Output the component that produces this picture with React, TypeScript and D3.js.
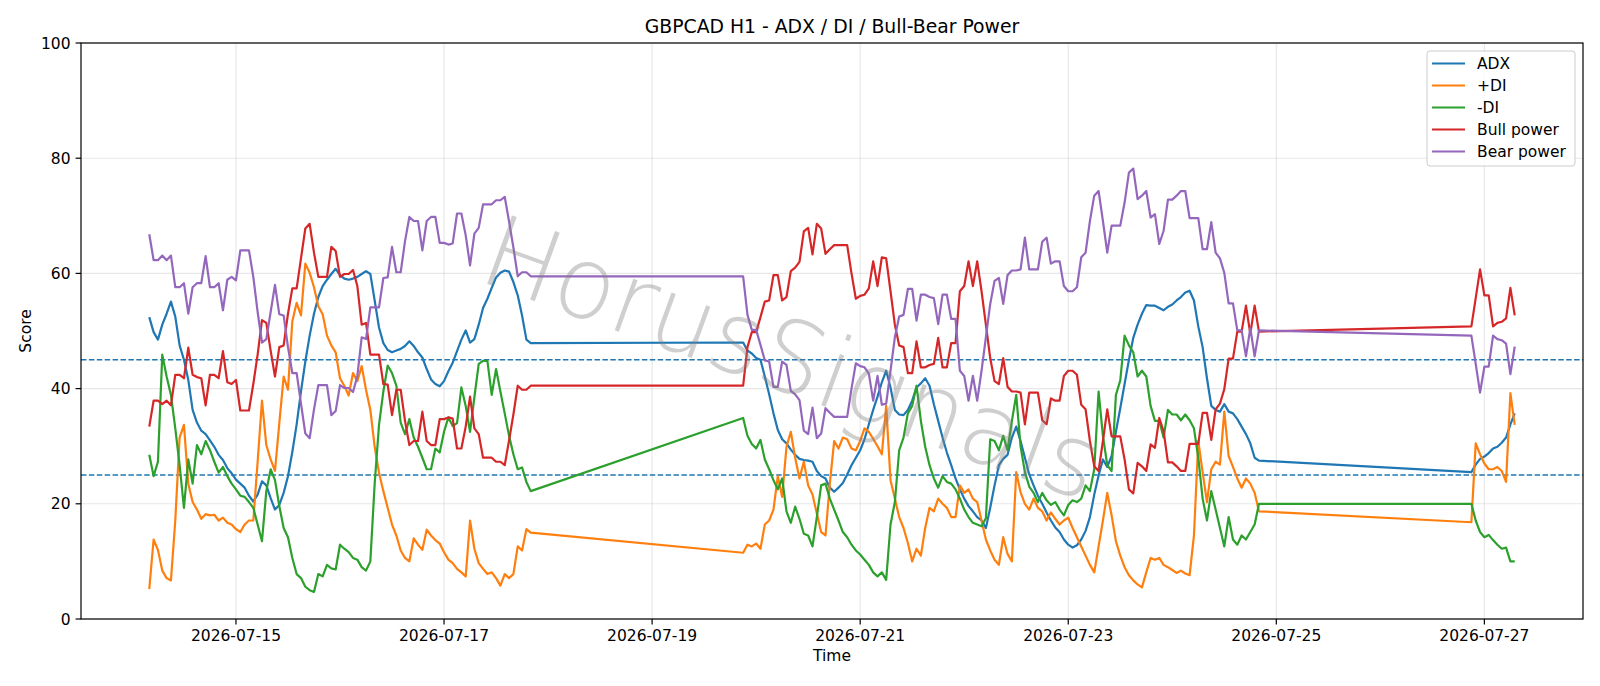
import { useMemo } from 'react'
import * as d3 from 'd3'

const WIDTH = 1600
const HEIGHT = 686
const MARGIN = { top: 43, right: 17, bottom: 67, left: 81 }

// hourly bars in three trading blocks, weekends in between
const SEGMENT_STARTS = ['2026-07-14T04:00:00Z', '2026-07-19T21:00:00Z', '2026-07-26T21:00:00Z']
const SEGMENT_HOURS = [89, 120, 11]

const ADX = [
  52.4, 49.8, 48.5, 51.1, 53, 55.1, 52.5, 47.5, 45, 41.5, 36.3, 34.1, 32.7, 32.1, 31, 29.9, 28.5, 27.6, 26.2, 25.3,
  24.2, 23.5, 22.8, 21.4, 20.4, 21.6, 23.9, 23.2, 21, 19, 19.8, 21.9, 24.8, 29, 33.8, 39.5, 44.7, 49.2, 53, 55.9,
  57.8, 58.9, 59.9, 60.8, 59.7, 59.1, 58.9, 59.1, 59.4, 59.9, 60.4, 59.9, 55.3, 50.6, 47.9, 46.7, 46.3, 46.6, 46.9, 47.4,
  48.2, 47.4, 46.3, 45.4, 43.4, 41.6, 40.8, 40.4, 41.3, 43, 44.5, 46.5, 48.5, 50.1, 48, 48.6, 51.1, 54, 55.6, 57.5,
  59.3, 60.1, 60.5, 60.3, 58.5, 56.2, 52.7, 48.5, 47.9,
  48, 46.6, 46.1, 45.3, 45, 42.1, 39, 35.7, 32.8, 31.2, 30.5, 29.4, 28.5, 27.8, 27.6, 27.5, 27.3, 25.7, 24.8, 24.4,
  22.8, 22.1, 22.8, 23.6, 25.1, 26.7, 28, 29.3, 31.2, 33.8, 36.3, 38.6, 41.1, 43.1, 40.2, 36.3, 35.5, 35.4, 36.3, 37.9,
  40.2, 40.9, 41.8, 40.5, 37.3, 34.4, 31.5, 28.9, 26.7, 24.4, 22.5, 20.9, 19.6, 18.7, 17.7, 17.1, 15.8, 19.3, 23.2, 26.7,
  27.8, 28.5, 31.5, 33.4, 30.9, 28, 25.1, 23.2, 21.4, 20, 18.5, 17.1, 15.9, 15.1, 13.8, 12.9, 12.4, 12.8, 13.8, 15.3,
  17.7, 21.6, 24.9, 27.7, 26.4, 28.3, 32.5, 36.6, 40.8, 45, 48.8, 51.1, 53, 54.5, 54.4, 54.4, 54, 53.6, 54.2, 54.6,
  55.3, 55.9, 56.7, 57, 55.3, 50.8, 47.2, 41.8, 37, 36.3, 36, 37.3, 36, 35.7, 34.7, 33.4, 32.1, 30.5, 28, 27.5,
  25.5, 26.8, 27.8, 28.2, 28.8, 29.6, 29.9, 30.6, 31.5, 33.8, 35.7,
]

const PLUS_DI = [
  5.2, 13.8, 12, 8.4, 7.1, 6.7, 17.1, 31.5, 33.7, 23.5, 20.3, 19, 17.4, 18.2, 18, 18.1, 17.1, 17.6, 16.7, 16.4,
  15.6, 15.1, 16.4, 17.1, 17.1, 27.3, 37.9, 30.2, 27.7, 25.7, 34, 42.1, 39.8, 51.7, 54.9, 52.7, 61.7, 60.1, 57.6, 54.3,
  52.9, 49.2, 47.5, 46.3, 41.8, 40.5, 38.8, 42.7, 41.3, 43.9, 39.8, 36.3, 29.9, 25.4, 22.2, 19.3, 16.4, 14.5, 11.9, 10.6,
  10, 14, 12.9, 12, 15.5, 14.5, 13.7, 13.1, 11.6, 10.3, 9.7, 8.7, 8.1, 7.4, 17.1, 12.2, 9.7, 8.7, 7.8, 8.1,
  7.1, 5.8, 7.8, 7.1, 7.8, 12.6, 11.9, 15.6, 15,
  11.5, 12.9, 12.6, 13.1, 12.2, 16.4, 17.1, 19, 24.8, 21.2, 29.9, 32.5, 28, 24.4, 27.3, 23.2, 21.6, 18.3, 15.1, 14.5,
  23.5, 30.9, 29.6, 31.5, 31.2, 29.6, 29.3, 30.9, 33.1, 32.5, 31.3, 30, 28.6, 37, 24.1, 20.9, 17.7, 15.8, 13.2, 10,
  12.2, 11, 15.8, 19.3, 18.7, 20.9, 20, 19.3, 17.7, 17.7, 23.2, 21.9, 22.5, 20.9, 20.3, 17.1, 13.8, 11.9, 10.3, 9.4,
  14.2, 11.3, 10, 25.5, 22, 20, 19, 20.9, 19.3, 18.7, 17.1, 18.5, 17.4, 16.4, 17.1, 17.6, 15.8, 14.2, 12.6, 11,
  9.4, 8.1, 12.6, 17.1, 21.9, 18, 13.5, 11, 9, 7.6, 6.7, 6, 5.5, 8.1, 10.6, 10.3, 10.6, 9.4, 9, 8.5,
  8, 8.4, 7.9, 7.6, 14.5, 30.9, 25.5, 20.3, 26, 27.3, 26.8, 36, 28.3, 26.4, 24.4, 22.8, 24.4, 23.5, 21.9, 18.7,
  16.8, 30.5, 28.6, 27, 26, 26, 26.4, 25.7, 23.8, 39.2, 33.7,
]

const MINUS_DI = [
  28.5, 24.8, 27.3, 45.9, 42.1, 38.9, 33.1, 26.7, 19.3, 27.7, 23.5, 30.2, 28.6, 30.9, 29.3, 27.3, 25.4, 26.4, 24.8, 23.5,
  22.5, 21.4, 21.2, 20.3, 19.3, 16.4, 13.5, 22.2, 26, 24.1, 19.6, 15.8, 14.2, 10.6, 7.8, 7.1, 5.6, 5, 4.7, 7.8,
  7.4, 9.4, 8.8, 8.6, 12.9, 12.2, 11.6, 10.6, 10.3, 9, 8.4, 10, 23.5, 33.7, 39.5, 44, 42.7, 40.5, 34.1, 32.1,
  34.7, 31.5, 29.9, 28, 26, 26, 29.6, 28.9, 32.5, 35, 33.5, 34, 40.2, 37, 32.5, 38.5, 44.3, 44.8, 44.8, 38.9,
  43.4, 39.5, 35.7, 31.8, 28.6, 26, 26.3, 23.8, 22.2,
  34.9, 31.8, 30.4, 29.6, 31.1, 27.7, 26, 24.1, 22.5, 24.4, 18.7, 16.7, 19.5, 17.4, 14.8, 14.5, 12.6, 17.7, 23.2, 23.5,
  20.9, 19, 17.1, 15.1, 14.2, 12.9, 11.9, 11.2, 10.3, 9.4, 8.1, 7.4, 8.1, 6.8, 16.4, 20.3, 29.3, 31.5, 35.7, 37,
  40.5, 34.4, 29.9, 26.7, 24.4, 22.8, 24.8, 23.8, 23.5, 22.5, 20.9, 19, 17.7, 16.7, 16.4, 16.1, 17.5, 31.2, 30.9, 29.3,
  31.8, 29.3, 34.4, 38.9, 30, 25.5, 23, 21.9, 20.3, 21.9, 20.6, 19.8, 20.3, 19, 18, 19.8, 20.6, 20.3, 20.9, 23.2,
  22.2, 26, 39.5, 31.8, 26.7, 25.7, 38.9, 41.4, 49.2, 47.5, 46.3, 42.1, 43.1, 42.1, 37, 34.4, 34.4, 31.5, 36.3, 35.5,
  35.5, 34.5, 35.5, 34.5, 33.1, 28, 20.9, 17.1, 22.2, 19, 15.8, 12.6, 17.7, 13.8, 12.9, 14.5, 13.8, 15.1, 16.4, 20,
  20, 17.1, 15.1, 14.2, 14.6, 13.7, 12.9, 12.2, 12.4, 10, 10,
]

const BULL_POWER = [
  33.4, 37.9, 37.9, 37.3, 37.9, 37.1, 42.4, 42.4, 41.8, 47.1, 42.4, 42, 41.8, 37.1, 42.4, 42.4, 41.8, 46.5, 41.1, 40.8,
  41.5, 36.2, 36.2, 36.2, 40.8, 45.9, 51.9, 51.4, 46.6, 42.1, 47.2, 47.5, 53, 57.4, 57.4, 62.6, 67.8, 68.6, 63.6, 59.4,
  59.4, 59.4, 64.6, 63.9, 59.4, 59.9, 59.9, 60.6, 57.8, 51.1, 51.4, 45.9, 45.9, 45.9, 40.8, 40.7, 35.4, 39.8, 39.8, 34.4,
  30.2, 30.9, 30.9, 36, 30.9, 30.2, 30.2, 34.7, 34.7, 35, 34.8, 29.6, 29.6, 33.4, 38.6, 33.1, 32.1, 28, 28, 28,
  27.3, 27.3, 26.7, 31, 35.5, 40.5, 39.8, 39.8, 40.5,
  40.5, 47.2, 49.8, 49.8, 52.4, 55.1, 55.3, 59.7, 59.7, 55.3, 55.9, 60.4, 61, 62, 67.3, 67.9, 63.3, 68.6, 67.8, 63.4,
  64.2, 64.9, 64.9, 64.9, 64.9, 60, 55.6, 56.1, 56.3, 57.4, 62.1, 57.8, 62.8, 62.6, 56.9, 51.1, 47.5, 47.2, 42.7, 42.7,
  48.2, 43.7, 43.7, 44.1, 44.3, 48.8, 43.7, 43.7, 47.9, 47.9, 56.9, 57.8, 62.1, 57.8, 62.1, 56.9, 51.1, 45.3, 41.3, 40.8,
  45.3, 40.3, 39.5, 39.5, 39.3, 33.8, 39.3, 39.3, 39.3, 34.5, 33.8, 38.3, 37.9, 37.9, 42.2, 43.1, 43.1, 42.4, 37.2, 36.4,
  30.9, 26.5, 25.7, 30.9, 36.4, 31.7, 31.7, 31.7, 27.7, 22.5, 21.8, 27.1, 26.5, 25.7, 30.3, 29.7, 34.9, 32.6, 27.2, 27.2,
  26.5, 25.7, 25.7, 30.4, 30.4, 30.4, 35.8, 35.8, 31.1, 36.4, 37.4, 39.9, 45.2, 45.2, 49.9, 49.9, 54.4, 49.5, 54.4, 49.9,
  50.8, 55.7, 60.7, 56.2, 56.2, 50.8, 51.4, 51.6, 52.2, 57.5, 52.7,
]

const BEAR_POWER = [
  66.8, 62.3, 62.3, 63.1, 62.3, 63.1, 57.6, 57.6, 58.3, 53, 57.6, 58.3, 58.3, 63, 57.6, 57.6, 58.3, 53.6, 58.9, 59.4,
  58.8, 64, 64, 64, 59.4, 53.3, 48, 48.6, 53.3, 58, 52.9, 52.7, 47.2, 42.7, 42.7, 37.4, 32.2, 31.4, 36.4, 40.6,
  40.6, 40.6, 35.4, 36.1, 40.6, 40.1, 40.1, 39.4, 42.2, 48.9, 48.6, 54.1, 54.1, 54.1, 59.2, 59.3, 64.6, 60.2, 60.2, 65.6,
  69.8, 69.1, 69.1, 64, 69.1, 69.8, 69.8, 65.3, 65.3, 65, 65.2, 70.4, 70.4, 66.6, 61.4, 66.9, 67.9, 72, 72, 72,
  72.7, 72.7, 73.3, 69, 64.5, 59.5, 60.2, 60.2, 59.5,
  59.5, 52.8, 50.2, 50.2, 47.6, 44.9, 44.7, 40.3, 40.3, 44.7, 44.1, 39.6, 39, 38, 32.7, 32.1, 36.7, 31.4, 32.2, 36.6,
  35.8, 35.1, 35.1, 35.1, 35.1, 40, 44.4, 43.9, 43.7, 42.6, 37.9, 42.2, 37.2, 37.4, 43.1, 48.9, 52.5, 52.8, 57.3, 57.3,
  51.8, 56.3, 56.3, 55.9, 55.7, 51.2, 56.3, 56.3, 52.1, 52.1, 43.1, 42.2, 37.9, 42.2, 37.9, 43.1, 48.9, 54.7, 58.7, 59.2,
  54.7, 59.7, 60.5, 60.5, 60.7, 66.2, 60.7, 60.7, 60.7, 65.5, 66.2, 61.7, 62.1, 62.1, 57.8, 56.9, 56.9, 57.6, 62.8, 63.6,
  69.1, 73.5, 74.3, 69.1, 63.6, 68.3, 68.3, 68.3, 72.3, 77.5, 78.2, 72.9, 73.5, 74.3, 69.7, 70.3, 65.1, 67.4, 72.8, 72.8,
  73.5, 74.3, 74.3, 69.6, 69.6, 69.6, 64.2, 64.2, 68.9, 63.6, 62.6, 60.1, 54.8, 54.8, 50.1, 50.1, 45.6, 50.5, 45.6, 50.1,
  49.2, 44.3, 39.3, 43.8, 43.8, 49.2, 48.6, 48.4, 47.8, 42.5, 47.3,
]

const SERIES = [
  { name: 'ADX', values: ADX, color: '#1f77b4' },
  { name: '+DI', values: PLUS_DI, color: '#ff7f0e' },
  { name: '-DI', values: MINUS_DI, color: '#2ca02c' },
  { name: 'Bull power', values: BULL_POWER, color: '#d62728' },
  { name: 'Bear power', values: BEAR_POWER, color: '#9467bd' },
]

const X_TICKS = ['2026-07-15', '2026-07-17', '2026-07-19', '2026-07-21', '2026-07-23', '2026-07-25', '2026-07-27']
const Y_TICKS = [0, 20, 40, 60, 80, 100]
const LEVELS = [45, 25]

const FONT = '"DejaVu Sans", sans-serif'

export default function App() {
  const times = useMemo(() => {
    const out: Date[] = []
    SEGMENT_STARTS.forEach((s, si) => {
      const t0 = new Date(s).getTime()
      for (let i = 0; i < SEGMENT_HOURS[si]; i++) out.push(new Date(t0 + i * 3600e3))
    })
    return out
  }, [])

  const innerW = WIDTH - MARGIN.left - MARGIN.right
  const innerH = HEIGHT - MARGIN.top - MARGIN.bottom

  const [t0, t1] = d3.extent(times) as [Date, Date]
  const pad = (t1.getTime() - t0.getTime()) * 0.05
  const x = d3
    .scaleUtc()
    .domain([new Date(t0.getTime() - pad), new Date(t1.getTime() + pad)])
    .range([MARGIN.left, MARGIN.left + innerW])
  const y = d3.scaleLinear().domain([0, 100]).range([MARGIN.top + innerH, MARGIN.top])

  const fmt = d3.utcFormat('%Y-%m-%d')
  const xTicks = X_TICKS.map((d) => new Date(d + 'T00:00:00Z'))

  const paths = SERIES.map((s) => {
    const gen = d3
      .line<number>()
      .x((_, i) => x(times[i]))
      .y((v) => y(v))
    return { ...s, d: gen(s.values) ?? '' }
  })

  const left = MARGIN.left
  const right = MARGIN.left + innerW
  const top = MARGIN.top
  const bottom = MARGIN.top + innerH

  return (
    <svg
      width={WIDTH}
      height={HEIGHT}
      viewBox={`0 0 ${WIDTH} ${HEIGHT}`}
      style={{ position: 'absolute', left: 0, top: 0, background: '#fff' }}
      fontFamily={FONT}
    >
      <rect width={WIDTH} height={HEIGHT} fill="#fff" />

      {/* grid */}
      <g stroke="#b0b0b0" strokeOpacity={0.3} strokeWidth={1.1}>
        {xTicks.map((t) => (
          <line key={t.toISOString()} x1={x(t)} x2={x(t)} y1={top} y2={bottom} />
        ))}
        {Y_TICKS.map((v) => (
          <line key={v} x1={left} x2={right} y1={y(v)} y2={y(v)} />
        ))}
      </g>

      {/* threshold levels */}
      {LEVELS.map((v) => (
        <line
          key={v}
          x1={left}
          x2={right}
          y1={y(v)}
          y2={y(v)}
          stroke="#1f77b4"
          strokeWidth={1.5}
          strokeDasharray="5.5,2.4"
        />
      ))}

      {paths.map((p) => (
        <path
          key={p.name}
          d={p.d}
          fill="none"
          stroke={p.color}
          strokeWidth={2.2}
          strokeLinejoin="round"
          strokeLinecap="butt"
        />
      ))}

      {/* watermark */}
      <text
        transform="translate(790,365) rotate(20)"
        textAnchor="middle"
        dominantBaseline="middle"
        fontSize={100}
        fontWeight={200}
        fill="#808080"
        fillOpacity={0.38}
      >
        HorusSignals
      </text>

      {/* frame */}
      <rect x={left} y={top} width={innerW} height={innerH} fill="none" stroke="#000" strokeWidth={1.2} />

      {/* x axis */}
      {xTicks.map((t) => (
        <g key={t.toISOString()} transform={`translate(${x(t)},${bottom})`}>
          <line y2={5.4} stroke="#000" strokeWidth={1.2} />
          <text y={22} textAnchor="middle" fontSize={15.5} fill="#000">
            {fmt(t)}
          </text>
        </g>
      ))}
      {Y_TICKS.map((v) => (
        <g key={v} transform={`translate(${left},${y(v)})`}>
          <line x2={-5.4} stroke="#000" strokeWidth={1.2} />
          <text x={-10.5} dy="0.36em" textAnchor="end" fontSize={15.5} fill="#000">
            {v}
          </text>
        </g>
      ))}

      <text x={(left + right) / 2} y={33} textAnchor="middle" fontSize={18.8} fill="#000">
        GBPCAD H1 - ADX / DI / Bull-Bear Power
      </text>
      <text x={(left + right) / 2} y={661} textAnchor="middle" fontSize={15.5} fill="#000">
        Time
      </text>
      <text
        transform={`translate(31,${(top + bottom) / 2}) rotate(-90)`}
        textAnchor="middle"
        fontSize={15.5}
        fill="#000"
      >
        Score
      </text>

      {/* legend */}
      <g transform="translate(1427,51)">
        <rect width={148} height={115} rx={3} fill="#fff" fillOpacity={0.8} stroke="#cccccc" strokeWidth={1} />
        {SERIES.map((s, i) => (
          <g key={s.name} transform={`translate(0,${12.5 + i * 22})`}>
            <line x1={5} x2={38} stroke={s.color} strokeWidth={2.2} />
            <text x={50} dy="0.36em" fontSize={15.5} fill="#000">
              {s.name}
            </text>
          </g>
        ))}
      </g>
    </svg>
  )
}
